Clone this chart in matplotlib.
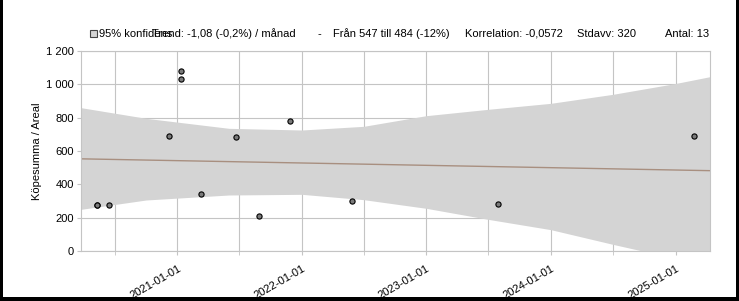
import numpy as np
import pandas as pd
import matplotlib
matplotlib.use("Agg")
import matplotlib.pyplot as plt
import matplotlib.dates as mdates
from matplotlib.patches import Rectangle
from matplotlib.ticker import FuncFormatter

plt.rcParams['font.family'] = ['Liberation Sans', 'DejaVu Sans']

# data
sale_dates = pd.to_datetime(["2020-05-09", "2020-05-09", "2020-06-14", "2020-12-06",
                             "2021-01-10", "2021-01-10", "2021-03-12", "2021-06-23",
                             "2021-08-29", "2021-11-28", "2022-05-29", "2023-07-29",
                             "2025-02-23"])
price_per_area = [274, 274, 274, 688, 1078, 1030, 340, 682, 208, 778, 298, 280, 688]

# trend line and 95% band (read at a few dates)
trend_dates = pd.to_datetime(["2020-03-24", "2025-04-12"])
trend_vals = [553, 482]
band_dates = pd.to_datetime(["2020-03-24", "2020-10-01", "2021-06-01", "2022-01-01",
                             "2022-07-01", "2023-01-01", "2023-07-01", "2024-01-01",
                             "2024-07-01", "2025-01-01", "2025-04-12"])
band_upper = [860, 796, 736, 726, 748, 812, 850, 886, 940, 1005, 1046]
band_lower = [250, 306, 336, 340, 308, 256, 190, 128, 40, -45, -85]

stats_text = ["Trend: -1,08 (-0,2%) / månad", "-", "Från 547 till 484 (-12%)",
              "Korrelation: -0,0572", "Stdavv: 320", "Antal: 13"]
stats_x = [152, 317, 333, 465, 577, 665]

W, H = 739, 301
fig = plt.figure(figsize=(W / 100, H / 100), dpi=100)
ax = fig.add_axes([81 / W, 1 - 251 / H, 629 / W, 200 / H])

ax.fill_between(band_dates, band_lower, band_upper, color="#d4d4d4", lw=0, zorder=1)
ax.plot(trend_dates, trend_vals, color="#a88f80", lw=1, zorder=2)
ax.scatter(sale_dates, price_per_area, s=14, c="#7a7a7a", edgecolors="black",
           linewidths=0.8, zorder=3)

ax.set_xlim(pd.Timestamp("2020-03-24"), pd.Timestamp("2025-04-12"))
ax.set_ylim(0, 1200)
ax.set_yticks(range(0, 1201, 200))
ax.yaxis.set_major_formatter(FuncFormatter(lambda v, p: f"{int(v):,}".replace(",", " ")))

ax.xaxis.set_major_locator(mdates.YearLocator())
ax.xaxis.set_minor_locator(mdates.MonthLocator(bymonth=7))
ax.xaxis.set_major_formatter(mdates.DateFormatter("%Y-%m-%d"))

ax.set_axisbelow(True)
ax.grid(True, which="both", color="#c4c4c4", lw=0.8)
for s in ax.spines.values():
    s.set_color("#c4c4c4")
    s.set_linewidth(0.8)
ax.tick_params(which="both", length=3, color="#c4c4c4", labelsize=8, pad=2)
ax.tick_params(axis="x", pad=6)
for lab in ax.get_xticklabels():
    lab.set_rotation(30)
    lab.set_ha("right")
    lab.set_va("top")
    lab.set_rotation_mode("anchor")

ax.set_ylabel("Köpesumma / Areal", fontsize=8, labelpad=3)

# legend square + stats header (overlapping like the original)
fig.patches.append(Rectangle((90 / W, 1 - 37 / H), 7 / W, 7 / H, transform=fig.transFigure,
                             facecolor="#d4d4d4", edgecolor="#444444", lw=0.8))
fig.text(99 / W, 1 - 34 / H, "95% konfidens", fontsize=8, va="center")
for t, x in zip(stats_text, stats_x):
    fig.text(x / W, 1 - 34 / H, t, fontsize=8, va="center")

# black frame on left, right and bottom
for r in [(0, 0, 3 / W, 1), (0, 0, 1, 4 / H), (1 - 3 / W, 0, 3 / W, 1)]:
    fig.patches.append(Rectangle(r[:2], r[2], r[3], transform=fig.transFigure,
                                 facecolor="black", lw=0))

fig.savefig("out.png", dpi=100)
